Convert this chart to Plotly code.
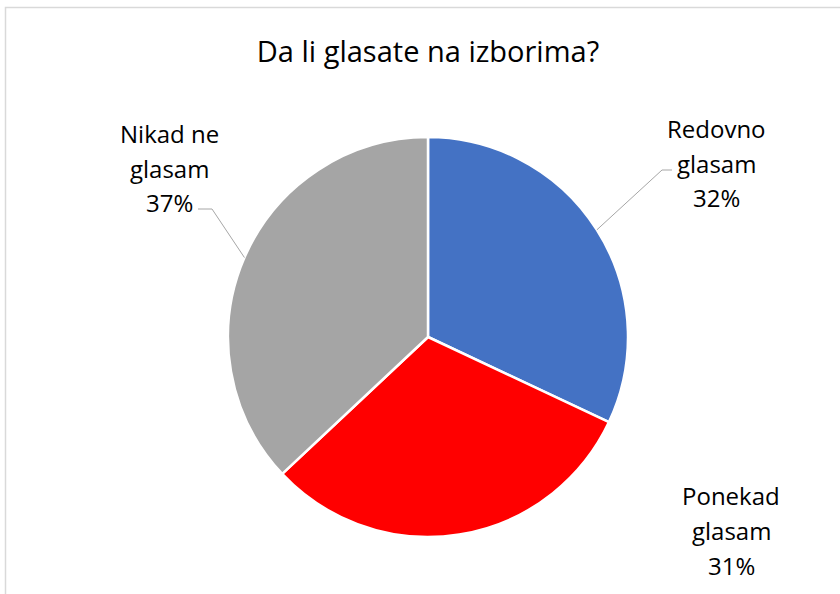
import numpy as np
import plotly.graph_objects as go

labels = ["Redovno glasam", "Ponekad glasam", "Nikad ne glasam"]
label_lines = [["Redovno", "glasam"], ["Ponekad", "glasam"], ["Nikad ne", "glasam"]]
values = [32, 31, 37]
colors = ["#4472C4", "#FF0000", "#A5A5A5"]

W, H = 840, 594
cx, cy, r = 428, 337, 200  # pie centre / radius in px


def px(x, y):
    return x / W, 1 - y / H


fig = go.Figure(go.Pie(
    labels=labels, values=values, sort=False, direction="clockwise", rotation=0,
    marker=dict(colors=colors, line=dict(color="white", width=2.5)),
    textinfo="none", hoverinfo="label+percent", showlegend=False,
    domain=dict(x=[(cx - r) / W, (cx + r) / W], y=[1 - (cy + r) / H, 1 - (cy - r) / H]),
))

# label block position (centre of middle line) and leader elbow for each slice
label_pos = [(716, 163), (731, 530), (169, 168)]
line_gap = 35
elbows = [((662, 170), (672, 170)), None, ((212, 209), (198, 209))]

total = sum(values)
cum = np.cumsum([0] + values) / total
pct = [round(v / total * 100) for v in values]

shapes = []
annotations = []
for i, lab in enumerate(label_lines):
    lines = lab + [f"{pct[i]}%"]
    lx, ly = label_pos[i]
    for k, t in enumerate(lines):
        ax, ay = px(lx, ly + (k - 1) * line_gap)
        annotations.append(dict(text=t, x=ax, y=ay, xref="paper", yref="paper",
                                showarrow=False, xanchor="center", yanchor="middle",
                                font=dict(size=24, color="#000000")))
    if elbows[i] is not None:
        mid = (cum[i] + cum[i + 1]) / 2 * 2 * np.pi
        sx, sy = cx + r * np.sin(mid), cy - r * np.cos(mid)
        pts = [(sx, sy), elbows[i][0], elbows[i][1]]
        path = "M " + " L ".join(f"{px(a, b)[0]},{px(a, b)[1]}" for a, b in pts)
        shapes.append(dict(type="path", path=path, xref="paper", yref="paper",
                           line=dict(color="#A6A6A6", width=1)))

# chart area border (only top/left visible)
shapes.append(dict(type="rect", xref="paper", yref="paper",
                   x0=5.5 / W, y0=-0.1, x1=1.1, y1=1 - 7.5 / H,
                   line=dict(color="#D9D9D9", width=1.5), layer="below"))

fig.update_layout(
    width=W, height=H,
    margin=dict(l=0, r=0, t=0, b=0),
    paper_bgcolor="white", plot_bgcolor="white",
    font=dict(family="Open Sans", color="#000000"),
    title=dict(text="Da li glasate na izborima?", x=428 / W, xanchor="center",
               y=1 - 52 / H, yanchor="middle", font=dict(size=29, color="#000000")),
    shapes=shapes, annotations=annotations,
)

fig.write_html("out.html", config={"displayModeBar": False},
               post_script="document.body.style.margin='0';")
